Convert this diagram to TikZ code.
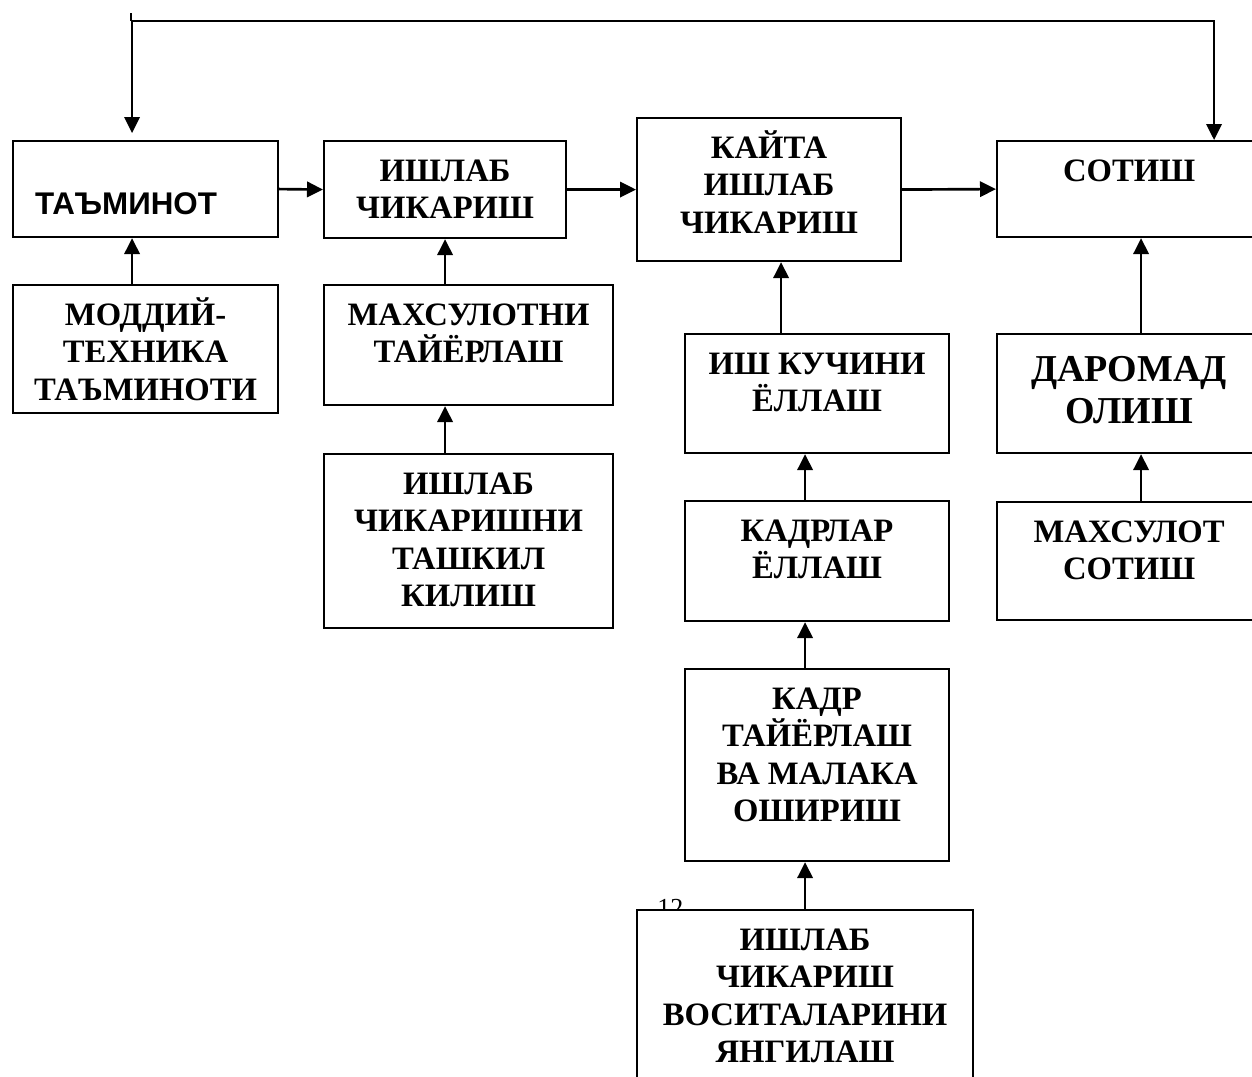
\documentclass[tikz,border=0pt]{standalone}
\usepackage{fontspec}
\setmainfont{Liberation Serif}
\newfontfamily\arialfont{Liberation Sans}
\usetikzlibrary{arrows.meta,calc}
\newcommand\bx[6]{\node[box, anchor=north west] (#1) at (#2,#3) {\parbox[t][\dimexpr#5pt*3/4\relax][t]{\dimexpr#4pt*3/4\relax}{\centering\rule{0pt}{30pt}#6}};}
\begin{document}
\begin{tikzpicture}[x=0.75pt,y=-0.75pt,
  box/.style={draw, line width=1.6pt, inner sep=0pt, fill=white, font=\fontsize{24.5pt}{28.2pt}\selectfont\bfseries},
  conn/.style={line width=2pt},
  arr/.style={line width=2pt, -{Triangle[length=12pt,width=11.5pt]}},
  arr2/.style={line width=1.8pt, {Triangle[length=12pt,width=11.5pt]}-{Triangle[length=12pt,width=11.5pt]}}]
\useasboundingbox (0,0) rectangle (1252,1076);
\clip (0,0) rectangle (1252,1076);

% row 1
\node[box, anchor=north west] (A) at (12,140) {\parbox[t][72pt][t]{198.75pt}{\raggedright\hspace*{16.5pt}\rule{0pt}{54.75pt}{\arialfont\bfseries\fontsize{23.5pt}{27pt}\selectfont ТАЪМИНОТ}}};
\bx{B}{323}{140}{242}{97}{ИШЛАБ\\ЧИКАРИШ}
\bx{C}{636}{117}{264}{143}{КАЙТА\\ИШЛАБ\\ЧИКАРИШ}
\bx{D}{996}{140}{264}{96}{СОТИШ}

% column 1
\bx{E}{12}{284}{265}{128}{МОДДИЙ-\\ТЕХНИКА\\ТАЪМИНОТИ}
% column 2
\bx{F}{323}{284}{289}{120}{МАХСУЛОТНИ\\ТАЙЁРЛАШ}
\bx{G}{323}{453}{289}{174}{ИШЛАБ\\ЧИКАРИШНИ\\ТАШКИЛ\\КИЛИШ}
% column 3
\bx{H}{684}{333}{264}{119}{ИШ КУЧИНИ\\ЁЛЛАШ}
\bx{I}{684}{500}{264}{120}{КАДРЛАР\\ЁЛЛАШ}
\bx{J}{684}{668}{264}{192}{КАДР\\ТАЙЁРЛАШ\\ВА МАЛАКА\\ОШИРИШ}
\node[anchor=base west, inner sep=0pt, font=\fontsize{19.5pt}{23pt}\selectfont] (pg) at (657,916) {12};
\bx{K}{636}{909}{336}{180}{ИШЛАБ\\ЧИКАРИШ\\ВОСИТАЛАРИНИ\\ЯНГИЛАШ}
% column 4
\node[box, anchor=north west] (L) at (996,333) {\parbox[t][89.25pt][t]{198pt}{\centering\fontsize{28.5pt}{31.5pt}\selectfont\rule{0pt}{35.25pt}ДАРОМАД\\ОЛИШ}};
\bx{M}{996}{501}{264}{118}{МАХСУЛОТ\\СОТИШ}

% horizontal arrows
\draw[arr] (A.east) -- (B.west);
\draw[arr] (B.east) -- (C.west);
\draw[arr] (C.east) -- (D.west);

% vertical arrows
\draw[arr] ([xshift=-10.125pt]E.north) -- ([xshift=-10.125pt]A.south);
\draw[arr] (B.south |- F.north) -- (B.south);
\draw[arr] (B.south |- G.north) -- (B.south |- F.south);
\draw[arr] ([xshift=9pt]C.south |- H.north) -- ([xshift=9pt]C.south);
\draw[arr] (K.north |- I.north) -- (K.north |- H.south);
\draw[arr] (K.north |- J.north) -- (K.north |- I.south);
\draw[arr] (K.north) -- (K.north |- J.south);
\draw[arr] ([xshift=9pt]D.south |- L.north) -- ([xshift=9pt]D.south);
\draw[arr] ([xshift=9pt]L.south |- M.north) -- ([xshift=9pt]L.south);

% feedback line
\coordinate (fbtop) at (131,13);
\coordinate (fbline) at (0,21);
\coordinate (as) at ([xshift=-10.125pt,yshift=5.25pt]A.north);
\coordinate (ds) at ([xshift=63.75pt]D.north);
\draw[conn] (fbtop) -- (fbtop |- fbline);
\draw[arr2] (as) -- (as |- fbline) -- (ds |- fbline) -- (ds);
\end{tikzpicture}
\end{document}
